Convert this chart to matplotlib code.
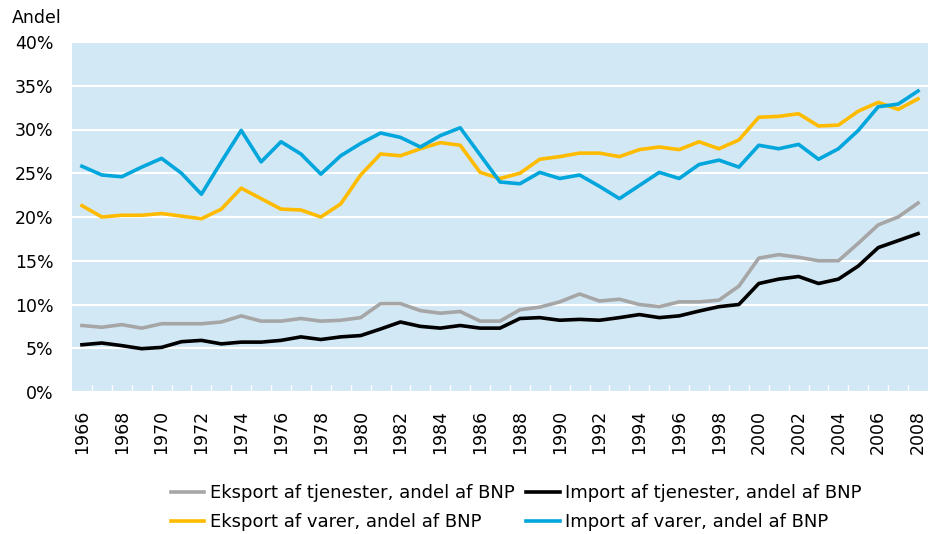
import matplotlib
matplotlib.use("Agg")
import matplotlib.pyplot as plt
import numpy as np

plt.rcParams['font.family'] = ['DejaVu Sans']

years = list(range(1966, 2009))

eksport_tjenester = [7.6, 7.4, 7.7, 7.3, 7.8, 7.8, 7.8, 8.0, 8.7, 8.1, 8.1, 8.4, 8.1, 8.2, 8.5,
                     10.1, 10.1, 9.3, 9.0, 9.2, 8.1, 8.1, 9.4, 9.7, 10.3, 11.2, 10.4, 10.6, 10.0,
                     9.75, 10.3, 10.3, 10.5, 12.1, 15.3, 15.7, 15.4, 15.0, 15.0, 17.0, 19.1, 20.0, 21.6]
import_tjenester = [5.4, 5.6, 5.3, 4.95, 5.1, 5.75, 5.9, 5.5, 5.7, 5.7, 5.9, 6.3, 6.0, 6.3, 6.45,
                    7.2, 8.0, 7.5, 7.3, 7.6, 7.3, 7.3, 8.4, 8.5, 8.2, 8.3, 8.2, 8.5, 8.85,
                    8.5, 8.7, 9.25, 9.75, 10.0, 12.4, 12.9, 13.2, 12.4, 12.9, 14.4, 16.5, 17.3, 18.1]
eksport_varer = [21.3, 20.0, 20.2, 20.2, 20.4, 20.1, 19.8, 20.9, 23.3, 22.1, 20.9, 20.8, 20.0, 21.5, 24.8,
                 27.2, 27.0, 27.8, 28.5, 28.2, 25.1, 24.4, 25.0, 26.6, 26.9, 27.3, 27.3, 26.9, 27.7,
                 28.0, 27.7, 28.6, 27.8, 28.8, 31.4, 31.5, 31.8, 30.4, 30.5, 32.1, 33.1, 32.3, 33.5]
import_varer = [25.8, 24.8, 24.6, 25.7, 26.7, 25.0, 22.6, 26.3, 29.9, 26.3, 28.6, 27.2, 24.9, 27.0, 28.4,
                29.6, 29.1, 28.0, 29.3, 30.2, 27.1, 24.0, 23.8, 25.1, 24.4, 24.8, 23.5, 22.1, 23.6,
                25.1, 24.4, 26.0, 26.5, 25.7, 28.2, 27.8, 28.3, 26.6, 27.8, 29.9, 32.6, 32.9, 34.4]

labels = ["Eksport af tjenester, andel af BNP", "Import af tjenester, andel af BNP",
          "Eksport af varer, andel af BNP", "Import af varer, andel af BNP"]
yticks = [0, 5, 10, 15, 20, 25, 30, 35, 40]

fig = plt.figure(figsize=(9.3, 5.34), dpi=100)
ax = fig.add_axes([72/930, 1-392/534, (928-72)/930, (392-42)/534])
ax.set_facecolor('#D3E8F5')

x = np.arange(len(years))
lw = 2.6
l1, = ax.plot(x, eksport_tjenester, color='#A6A6A6', lw=lw, label=labels[0])
l2, = ax.plot(x, import_tjenester, color='#000000', lw=lw, label=labels[1])
l3, = ax.plot(x, eksport_varer, color='#FFBB00', lw=lw, label=labels[2])
l4, = ax.plot(x, import_varer, color='#00A6DC', lw=lw, label=labels[3])

ax.set_xlim(-0.5, len(years)-0.5)
ax.set_ylim(0, 40)
ax.set_yticks(yticks)
ax.set_yticklabels([f"{v}%" for v in yticks])
ax.yaxis.grid(True, color='white', lw=1.5)
ax.set_axisbelow(True)

ax.set_xticks(x[::2])
ax.set_xticklabels([str(y) for y in years[::2]], rotation=90)
ax.set_xticks(np.arange(0.5, len(years)-1, 1), minor=True)
ax.tick_params(axis='x', which='major', length=0, labelsize=12.5, pad=13)
ax.tick_params(axis='x', which='minor', length=5, direction='in', color='white', width=1)
ax.tick_params(axis='y', length=0, labelsize=12.5, pad=13.5)
for s in ax.spines.values():
    s.set_visible(False)

fig.text(12/930, 1-18/534, "Andel", fontsize=12.5, va='center', ha='left')

leg = fig.legend(handles=[l1, l3, l2, l4], labels=[labels[0], labels[2], labels[1], labels[3]],
                 ncol=2, loc='upper left', bbox_to_anchor=(171/930, 1-484/534), frameon=False,
                 fontsize=13, handlelength=1.85, handletextpad=0.3, columnspacing=0.65,
                 labelspacing=0.62, borderpad=0, borderaxespad=0)

fig.savefig("out.png", dpi=100)
